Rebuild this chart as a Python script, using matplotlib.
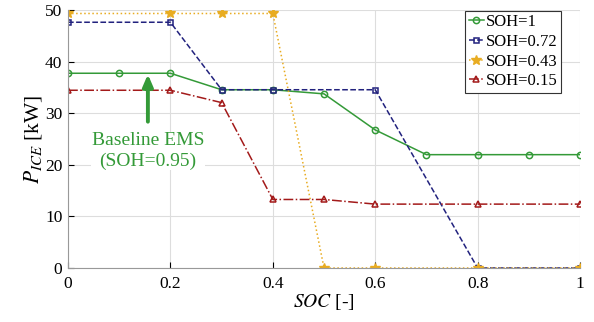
import numpy as np
import matplotlib
matplotlib.use("Agg")
import matplotlib.pyplot as plt

plt.rcParams['font.family'] = ['Liberation Serif', 'DejaVu Serif']
plt.rcParams['mathtext.fontset'] = 'stix'

# data
soc_1 = [0, 0.1, 0.2, 0.3, 0.4, 0.5, 0.6, 0.7, 0.8, 0.9, 1.0]
p_1 = [37.8, 37.8, 37.8, 34.6, 34.6, 33.8, 26.8, 22.0, 22.0, 22.0, 22.0]
soc_072 = [0, 0.2, 0.3, 0.4, 0.6, 0.8, 1.0]
p_072 = [47.7, 47.7, 34.6, 34.6, 34.6, 0, 0]
soc_043 = [0, 0.2, 0.3, 0.4, 0.5, 0.6, 0.8, 1.0]
p_043 = [49.4, 49.4, 49.4, 49.4, 0, 0, 0, 0]
soc_015 = [0, 0.2, 0.3, 0.4, 0.5, 0.6, 0.8, 1.0]
p_015 = [34.5, 34.5, 32.1, 13.3, 13.3, 12.4, 12.4, 12.4]

green = '#349a38'
navy = '#22227e'
gold = '#e8ac22'
red = '#a31a1a'

fig = plt.figure(figsize=(5.94, 3.22), dpi=100)
ax = fig.add_axes([0.1145, 0.1677, 0.862, 0.800])

ax.plot(soc_1, p_1, '-', color=green, marker='o', ms=4.5, mfc='none', mew=1.1, lw=1.1, label='SOH=1')
ax.plot(soc_072, p_072, '--', color=navy, marker='s', ms=3.6, mfc='none', mew=1.1, lw=1.1, label='SOH=0.72')
ax.plot(soc_043, p_043, ':', color=gold, marker='*', ms=7, lw=1.1, label='SOH=0.43')
ax.plot(soc_015, p_015, '-.', color=red, marker='^', ms=5, mfc='none', mew=1.1, lw=1.1, label='SOH=0.15')

# annotation
ax.annotate('', xy=(0.156, 37.6), xytext=(0.156, 28.4),
            arrowprops=dict(arrowstyle='-|>,head_width=0.3,head_length=0.7', color=green, lw=2.8,
                            shrinkA=0, shrinkB=0))
ax.text(0.156, 22.7, 'Baseline EMS\n(SOH=0.95)', color=green, fontsize=14,
        ha='center', va='center', linespacing=1.22,
        bbox=dict(facecolor='white', edgecolor='none', pad=0.5))

ax.set_xlim(0, 1)
ax.set_ylim(0, 50)
ax.set_xticks([0, 0.2, 0.4, 0.6, 0.8, 1])
ax.set_xticklabels(['0', '0.2', '0.4', '0.6', '0.8', '1'])
ax.set_yticks([0, 10, 20, 30, 40, 50])
ax.tick_params(direction='in', labelsize=12.5, length=4, color='black', pad=4)
ax.tick_params(axis='x', pad=6)
ax.grid(True, color='#dddddd', lw=0.8)
ax.set_axisbelow(True)
for s in ['top', 'right']:
    ax.spines[s].set_visible(False)
for s in ['left', 'bottom']:
    ax.spines[s].set_color('#999999')

ax.set_xlabel('$SOC$ [-]', fontsize=14, labelpad=0)
ax.set_ylabel('$P_{ICE}$ [kW]', fontsize=15.5, labelpad=1)

leg = ax.legend(loc='upper right', bbox_to_anchor=(0.963, 0.998), fontsize=12,
                handlelength=0.9, handletextpad=0.15, borderpad=0.2, labelspacing=0.22,
                fancybox=False, framealpha=1, borderaxespad=0)
leg.get_frame().set_edgecolor('#333333')
leg.get_frame().set_linewidth(0.8)

fig.savefig('out.png', dpi=100)
